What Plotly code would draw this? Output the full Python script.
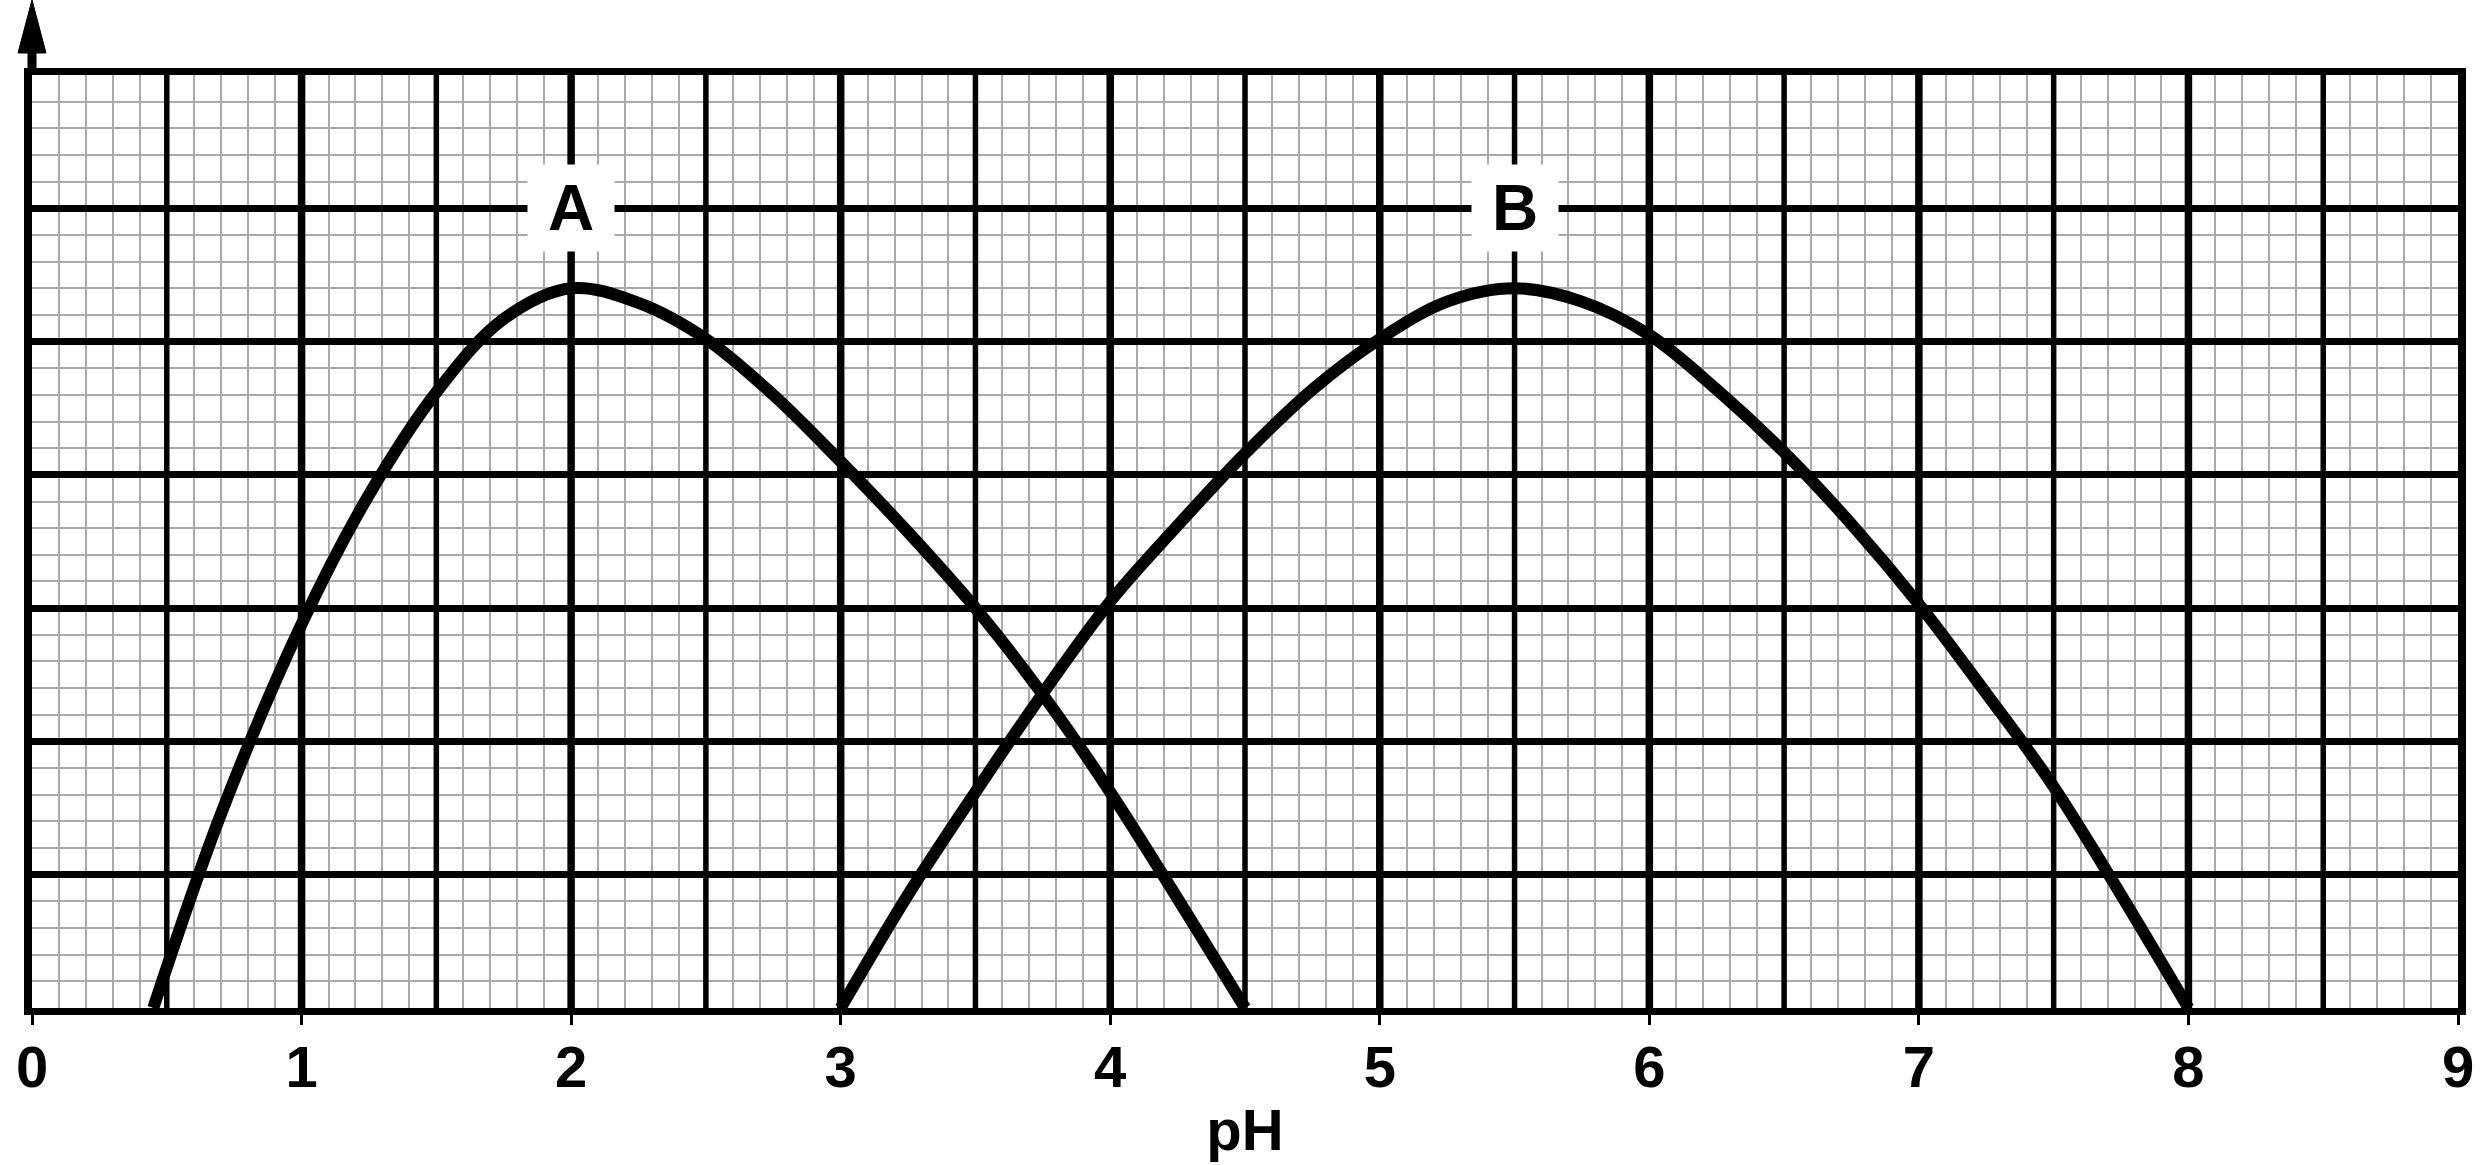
import plotly.graph_objects as go

# ---- data ----
a_ph = [0.45, 0.7, 1.0, 1.25, 1.5, 1.75, 2.0, 2.25, 2.5, 2.75, 3.0, 3.25, 3.5, 3.75, 4.0, 4.5]
a_val = [0.0, 1.45, 2.88, 3.85, 4.62, 5.17, 5.4, 5.29, 5.02, 4.6, 4.1, 3.57, 3.0, 2.35, 1.62, 0.0]

b_ph = [3.0, 3.25, 3.5, 3.75, 4.0, 4.25, 4.5, 4.75, 5.0, 5.25, 5.5, 5.75, 6.0, 6.25, 6.5, 6.75, 7.0, 7.25, 7.5, 8.0]
b_val = [0.0, 0.85, 1.62, 2.36, 3.05, 3.62, 4.16, 4.64, 5.02, 5.3, 5.4, 5.3, 5.05, 4.64, 4.17, 3.63, 3.03, 2.36, 1.66, 0.0]

x_ticks = [0, 1, 2, 3, 4, 5, 6, 7, 8, 9]
x_tick_labels = ["0", "1", "2", "3", "4", "5", "6", "7", "8", "9"]
half_lines = [0.5, 1.5, 2.5, 3.5, 4.5, 5.5, 6.5, 7.5, 8.5]
int_lines = [1, 2, 3, 4, 5, 6, 7, 8]

labels = ["A", "B"]
label_x = [2, 5.5]
label_y = [6, 6]

x_title = "pH"

FONT = "Liberation Sans, Arial, sans-serif"

fig = go.Figure()
for xs, ys in ((a_ph, a_val), (b_ph, b_val)):
    fig.add_trace(go.Scatter(x=xs, y=ys, mode="lines",
                             line=dict(color="black", width=12, shape="spline", smoothing=1.0),
                             hoverinfo="skip", showlegend=False))

shapes = []
for v in half_lines:
    shapes.append(dict(type="line", xref="x", yref="y", x0=v, x1=v, y0=0, y1=7,
                       line=dict(color="black", width=5.5), layer="between"))
for v in int_lines:
    shapes.append(dict(type="line", xref="x", yref="y", x0=v, x1=v, y0=0, y1=7,
                       line=dict(color="black", width=7.5), layer="between"))

# y-axis arrow above the plot
shapes.append(dict(type="line", xref="paper", yref="paper", x0=0, x1=0, y0=1.0, y1=1.03,
                   line=dict(color="black", width=9)))
shapes.append(dict(type="path", xref="paper", yref="paper",
                   xsizemode="pixel", xanchor=0, ysizemode="pixel", yanchor=1,
                   path="M -14 22 L 14 22 L 0 75 Z",
                   fillcolor="black", line=dict(color="black", width=1)))

annotations = []
for t, lx, ly in zip(labels, label_x, label_y):
    annotations.append(dict(x=lx, y=ly, xref="x", yref="y", text=t, showarrow=False,
                            font=dict(family=FONT, size=64, color="black", weight="bold"),
                            bgcolor="white", borderpad=0, width=86, height=86,
                            xanchor="center", yanchor="middle"))

fig.update_layout(
    width=2491, height=1165,
    margin=dict(l=32, r=33, t=75, b=146),
    paper_bgcolor="white", plot_bgcolor="white",
    shapes=shapes, annotations=annotations,
    xaxis=dict(range=[0, 9], tickvals=x_ticks, ticktext=x_tick_labels,
               showgrid=False, zeroline=False,
               showline=True, mirror=True, linecolor="black", linewidth=7,
               ticks="outside", ticklen=10, tickwidth=3, tickcolor="black",
               ticklabelstandoff=-8,
               tickfont=dict(family=FONT, size=58, color="black", weight="bold"),
               title=dict(text=x_title, font=dict(family=FONT, size=58, color="black", weight="bold"),
                          standoff=14),
               minor=dict(dtick=0.1, tick0=0, showgrid=True, gridcolor="#aaaaaa", gridwidth=1.5, ticks=""),
               fixedrange=True),
    yaxis=dict(range=[0, 7], dtick=1, tick0=0, showticklabels=False, ticks="",
               showgrid=True, gridcolor="black", gridwidth=7, zeroline=False,
               showline=True, mirror=True, linecolor="black", linewidth=8,
               minor=dict(dtick=0.2, tick0=0, showgrid=True, gridcolor="#aaaaaa", gridwidth=1.5, ticks=""),
               fixedrange=True),
)

fig.write_html("out.html", config={"displayModeBar": False},
               post_script="document.body.style.margin='0';")
